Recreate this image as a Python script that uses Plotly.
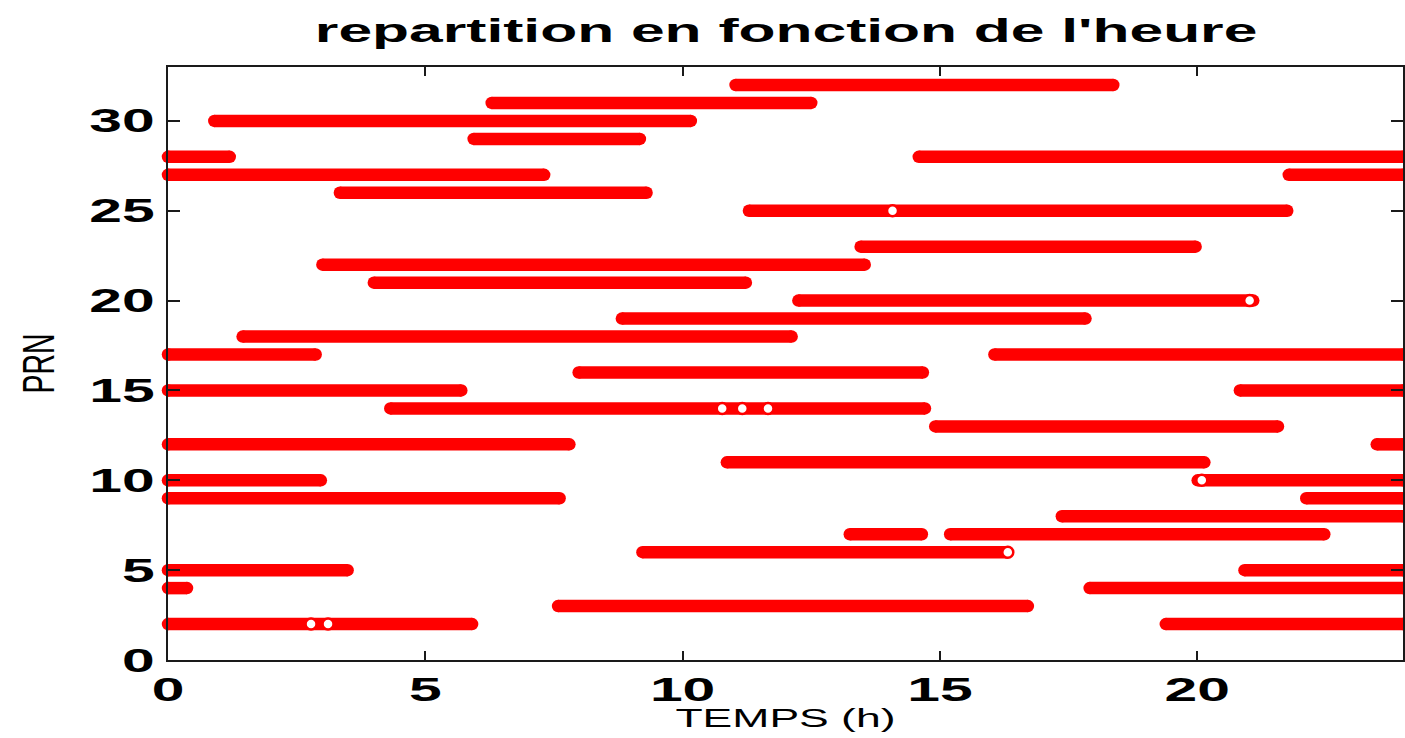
import plotly.graph_objects as go

# ---- data ----
seg_prn = [32, 31, 30, 29, 28, 28, 27, 27, 26, 25,
           23, 22, 21, 20, 19, 18, 17, 17, 16, 15,
           15, 14, 13, 12, 12, 11, 10, 10, 9, 9,
           8, 7, 7, 6, 5, 5, 4, 4, 3, 2,
           2]
seg_start = [11.03, 6.29, 0.90, 5.94, 0.00, 14.59, 0.00, 21.78, 3.34, 11.29,
             13.46, 3.00, 4.00, 12.25, 8.82, 1.45, 0.00, 16.06, 7.98, 0.00,
             20.83, 4.32, 14.91, 0.00, 23.49, 10.86, 0.00, 20.01, 0.00, 22.12,
             17.37, 13.25, 15.20, 9.22, 0.00, 20.92, 0.00, 17.91, 7.58, 0.00,
             19.39]
seg_end = [18.37, 12.50, 10.16, 9.17, 1.20, 24.00, 7.31, 24.00, 9.30, 21.75,
           19.97, 13.54, 11.23, 21.09, 17.83, 12.12, 2.87, 24.00, 14.67, 5.70,
           24.00, 14.71, 21.57, 7.80, 24.00, 20.14, 2.97, 24.00, 7.61, 24.00,
           24.00, 14.65, 22.47, 16.30, 3.49, 24.00, 0.37, 24.00, 16.71, 5.91,
           24.00]

# isolated (sparse) samples that show as open circles
hollow_prn = [2, 2, 14, 14, 14, 25, 20, 10, 6]
hollow_t = [2.78, 3.11, 10.77, 11.16, 11.66, 14.08, 21.02, 20.09, 16.32]

x_ticks = [0, 5, 10, 15, 20]
y_ticks = [0, 5, 10, 15, 20, 25, 30]

title_text = "repartition en fonction de l'heure"
x_title = "TEMPS (h)"
y_title = "PRN"

# ---- build the figure ----
xs, ys = [], []
for p, s, e in zip(seg_prn, seg_start, seg_end):
    xs += [s, e, None]
    ys += [p, p, None]

RED = "#ff0000"
FONT = "Liberation Sans, Arial, sans-serif"

fig = go.Figure()
fig.add_trace(go.Scatter(
    x=xs, y=ys, mode="lines+markers",
    line=dict(color=RED, width=12.5),
    marker=dict(symbol="circle", size=12.5, color=RED, line=dict(width=0)),
    cliponaxis=False, hoverinfo="skip", showlegend=False,
))
fig.add_trace(go.Scatter(
    x=hollow_t, y=hollow_prn, mode="markers",
    marker=dict(symbol="circle", size=11, color="white",
                line=dict(color=RED, width=2.5)),
    cliponaxis=False, hoverinfo="skip", showlegend=False,
))

axis_common = dict(
    showline=True, linecolor="#1a1a1a", linewidth=1.5,
    mirror="ticks", ticks="inside", tickcolor="#1a1a1a", tickwidth=1.5,
    showgrid=False, zeroline=False,
    tickfont=dict(family=FONT, size=33, color="black", weight="bold"),
)

fig.update_layout(
    width=1405, height=738,
    margin=dict(l=168, r=0, t=67, b=78),
    paper_bgcolor="white", plot_bgcolor="white",
    title=dict(text=title_text, x=0.5595, xanchor="center",
               y=1 - 30 / 738, yanchor="middle", yref="container",
               font=dict(family=FONT, size=34, color="black", weight="bold")),
    xaxis=dict(range=[0, 24], tickvals=x_ticks, ticklen=9,
               ticklabelstandoff=0,
               title=dict(text=x_title, standoff=2,
                          font=dict(family=FONT, size=25, color="black")),
               **axis_common),
    yaxis=dict(range=[0, 33], tickvals=y_ticks, ticklen=12,
               ticklabelstandoff=5,
               title=dict(text=y_title, standoff=50,
                          font=dict(family=FONT, size=44, color="black")),
               **axis_common),
)

# The reference picture is horizontally stretched; stretch the rendered
# SVG text the same way (text stays real text).
post_js = """
var gd = document.getElementById('{plot_id}');
var K = 1.78;
function stretchText(){
  var sel = gd.querySelectorAll('text.gtitle, text.xtitle, .xtick text, .ytick text');
  sel.forEach(function(t){
    if (t.getAttribute('data-st')) return;
    var w = t.getComputedTextLength();
    if (w > 0) {
      t.setAttribute('textLength', (w * K).toFixed(1));
      t.setAttribute('lengthAdjust', 'spacingAndGlyphs');
      t.setAttribute('data-st', '1');
    }
  });
  var yt = gd.querySelector('text.ytitle');
  if (yt && !yt.getAttribute('data-st')) {
    yt.setAttribute('textLength', '60');
    yt.setAttribute('lengthAdjust', 'spacingAndGlyphs');
    yt.setAttribute('data-st', '1');
  }
}
stretchText();
gd.on('plotly_afterplot', stretchText);
"""

fig.write_html("out.html", post_script=post_js)
